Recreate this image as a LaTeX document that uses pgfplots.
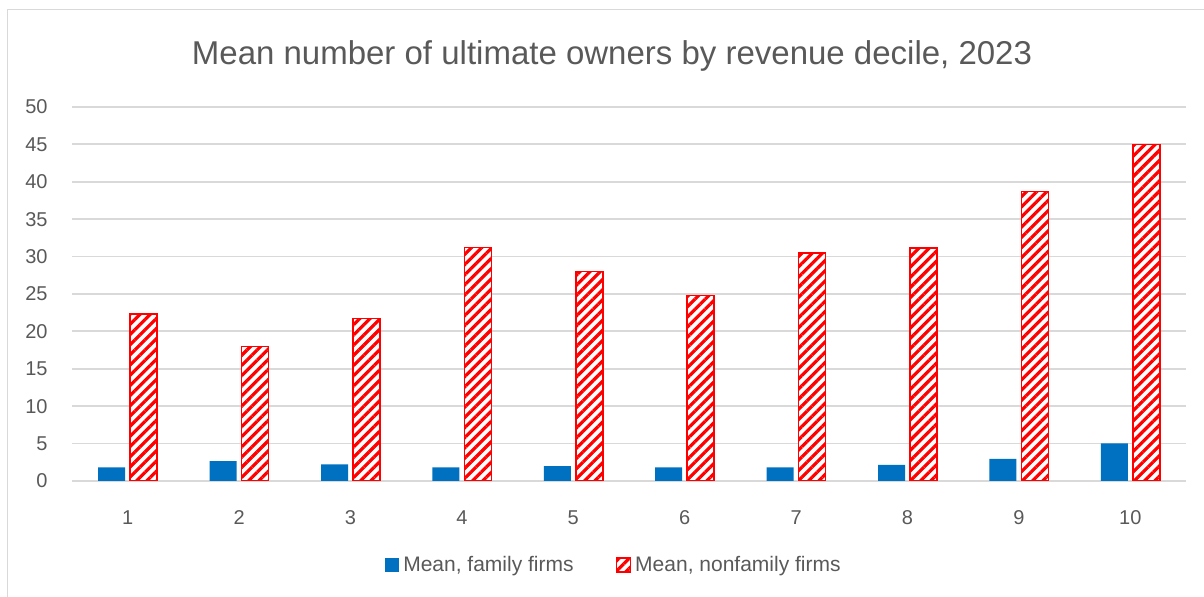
\documentclass[border=0pt]{standalone}
\usepackage{fontspec}
\setmainfont{Liberation Sans}
\usepackage{pgfplots}
\pgfplotsset{compat=1.18}
\usetikzlibrary{patterns.meta}
\definecolor{famblue}{HTML}{0070C0}
\definecolor{gridgray}{HTML}{D9D9D9}
\definecolor{txtgray}{HTML}{595959}
\begin{document}
\begin{tikzpicture}
\path[use as bounding box] (0,0) rectangle (602pt,298.5pt);
\draw[gridgray, line width=0.9pt] (3.75pt,-1pt) -- (3.75pt,293.75pt) -- (603pt,293.75pt);
\node[txtgray, font=\fontsize{16.5}{19}\selectfont] at (306pt,270.5pt) {Mean number of ultimate owners by revenue decile, 2023};
\begin{axis}[
  at={(36pt,58pt)}, anchor=south west,
  scale only axis, width=557pt, height=187pt,
  ybar=2.5pt, bar width=13.5pt,
  xmin=0.5, xmax=10.5, ymin=0, ymax=50,
  xtick={1,2,3,4,5,6,7,8,9,10},
  ytick={0,5,10,15,20,25,30,35,40,45,50},
  axis line style={draw=none},
  major tick length=0pt,
  ymajorgrids, major grid style={gridgray, line width=0.9pt},
  /pgf/number format/assume math mode=true,
  tick label style={txtgray, font=\fontsize{10}{12}\selectfont},
  yticklabel style={anchor=east, inner sep=0pt, xshift=-12pt},
  xticklabel style={anchor=north, inner sep=0pt, yshift=-14.5pt},
  legend style={at={(0.4874,-0.2246)}, anchor=center, draw=none, fill=none,
    font=\fontsize{10.5}{12}\selectfont, text=txtgray, legend columns=2,
    /tikz/every even column/.append style={column sep=19pt},
    legend cell align=left},
  legend image code/.code={\path[#1] (0pt,-3.5pt) rectangle (7pt,3.5pt);},
]
\addplot[fill=famblue, draw=none] coordinates {
(1,1.83) (2,2.67) (3,2.23) (4,1.83) (5,2.0) (6,1.83) (7,1.83) (8,2.14) (9,2.94) (10,5.04)};
\addplot[draw=red, line width=0.8pt, fill=white,
  postaction={pattern={Lines[angle=45,distance=3.6pt,line width=1.6pt]}, pattern color=red}] coordinates {
(1,22.3) (2,18.0) (3,21.7) (4,31.2) (5,28.0) (6,24.8) (7,30.5) (8,31.15) (9,38.7) (10,45.0)};
\legend{{Mean, family firms},{Mean, nonfamily firms}}
\end{axis}
\end{tikzpicture}
\end{document}
